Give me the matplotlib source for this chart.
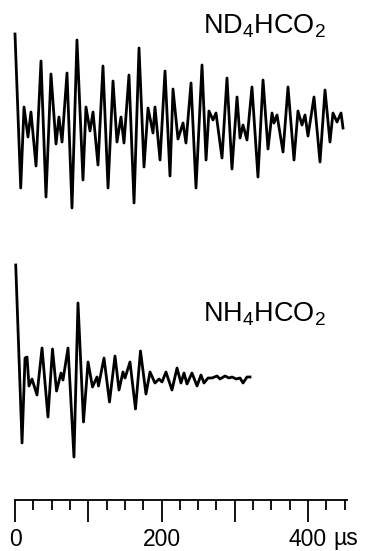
import matplotlib
matplotlib.use("Agg")
import matplotlib.pyplot as plt
from matplotlib.ticker import FixedLocator

plt.rcParams['font.family'] = ['Liberation Sans', 'DejaVu Sans']
plt.rcParams['mathtext.default'] = 'regular'

# ---- data (time in microseconds, amplitude in arbitrary units) ----
nd4_time = [0, 7.8, 12.3, 17.7, 21.8, 28.7, 35.5, 42.3, 49.1, 56, 60, 64.2, 71, 77.8,
            84.6, 92.8, 96.9, 102.4, 106.5, 113.3, 120.1, 127, 133.8, 139.2, 144.7,
            148.8, 155.6, 162.5, 169.3, 176.1, 181.6, 188.4, 191.1, 198, 204.8, 211.6,
            215.7, 222.5, 229.4, 233.4, 240.3, 247.1, 255.3, 260.8, 264.8, 270.3, 274.4,
            282.6, 289.4, 296.2, 303.1, 307.2, 311.3, 316.7, 323.5, 331.7, 338.6, 345.4,
            350.9, 353.6, 357.7, 365.9, 372.7, 380.9, 386.3, 391.8, 395.9, 400, 408.2,
            416.4, 423.2, 430.0, 434.1, 439.6, 445.1, 447.8]
nd4_amp = [89, -65, 16, -14, 11, -43, 62, -74, 49, -21, 6, -19, 50, -85,
           83, -57, 16, -8, 11, -42, 57, -65, 42, -19, 6,
           -20, 48, -80, 75, -44, 15, -10, 16, -37, 52, -53,
           34, -16, 0, -20, 40, -65, 58, -37, 12, 3, 10,
           -35, 45, -46, 26, -15, -2, -17, 36, -54, 43, -26,
           10, 0, 8, -29, 36, -37, 12, -2, 8, -13, 26,
           -39, 33, -19, 10, 1, 10, -5]

nh4_time = [1, 9.6, 13.7, 16.4, 19.1, 23.2, 30, 36.9, 45, 51.2, 56.7, 62.8, 65.5, 72.4,
            80.5, 86, 93.5, 99.7, 105.8, 111.9, 114, 121.5, 129, 136.5, 142, 147.4,
            150.2, 157, 164.5, 171.3, 178.8, 184.3, 191.1, 196.6, 200.7, 206.1, 214.3,
            221.2, 226.6, 230.7, 234.8, 241.6, 248.5, 253.9, 258, 263.5, 269, 275.8,
            279.9, 286.7, 292.2, 296.3, 302, 307.2, 311.3, 316.7, 320.8]
nh4_amp = [112, -66, 19, 20, -9, -2, -18, 29, -40, 28, -14, 4, -3, 29,
           -80, 74, -45, 15, -10, 0, -9, 19, -25, 21, -13, 5,
           -1, 15, -32, 26, -17, 5, -6, -2, -5, 5, -13,
           9, -6, 4, -7, 4, -9, 2, -6, -1, -1, 1,
           -2, 1, -1, 0, -2, -1, -6, 0, 0]

labels = ['ND$_4$HCO$_2$', 'NH$_4$HCO$_2$']
major_ticks = [0, 100, 200, 300, 400]
major_labels = ['0', '', '200', '', '400']
unit_label = 'µs'

# ---- figure ----
W, H = 381, 551
fig = plt.figure(figsize=(W / 100, H / 100), dpi=100)
ax = fig.add_axes([0, 0, 1, 1])
px_per_us = 0.7325
x0 = 15
ax.set_xlim(-x0 / px_per_us, (W - x0) / px_per_us)
ax.set_ylim(0, H)

top_base = H - 123
bot_base = H - 377
ax.plot(nd4_time, [top_base + a for a in nd4_amp], color='black', lw=2.0,
        solid_joinstyle='round')
ax.plot(nh4_time, [bot_base + a for a in nh4_amp], color='black', lw=2.0,
        solid_joinstyle='round')

ax.text(256, H - 33, labels[0], fontsize=19.5, ha='left', va='baseline')
ax.text(256, H - 322, labels[1], fontsize=19.5, ha='left', va='baseline')

# time axis
for s in ['top', 'left', 'right']:
    ax.spines[s].set_visible(False)
ax.spines['bottom'].set_position(('data', H - 500))
ax.spines['bottom'].set_bounds(0, 453)
ax.spines['bottom'].set_linewidth(1.3)
ax.xaxis.set_major_locator(FixedLocator(major_ticks))
ax.set_xticklabels(major_labels)
ax.xaxis.set_minor_locator(FixedLocator([t for t in range(0, 451, 25) if t % 100]))
ax.tick_params(axis='x', which='major', direction='out', length=16, width=1.3,
               labelsize=16.5, pad=4.5)
ax.tick_params(axis='x', which='minor', direction='out', length=7, width=1.3)
ax.set_yticks([])
ax.text((333 - x0) / px_per_us, 6, unit_label, fontsize=16.5, ha='left', va='baseline')

fig.savefig('out.png', dpi=100)
